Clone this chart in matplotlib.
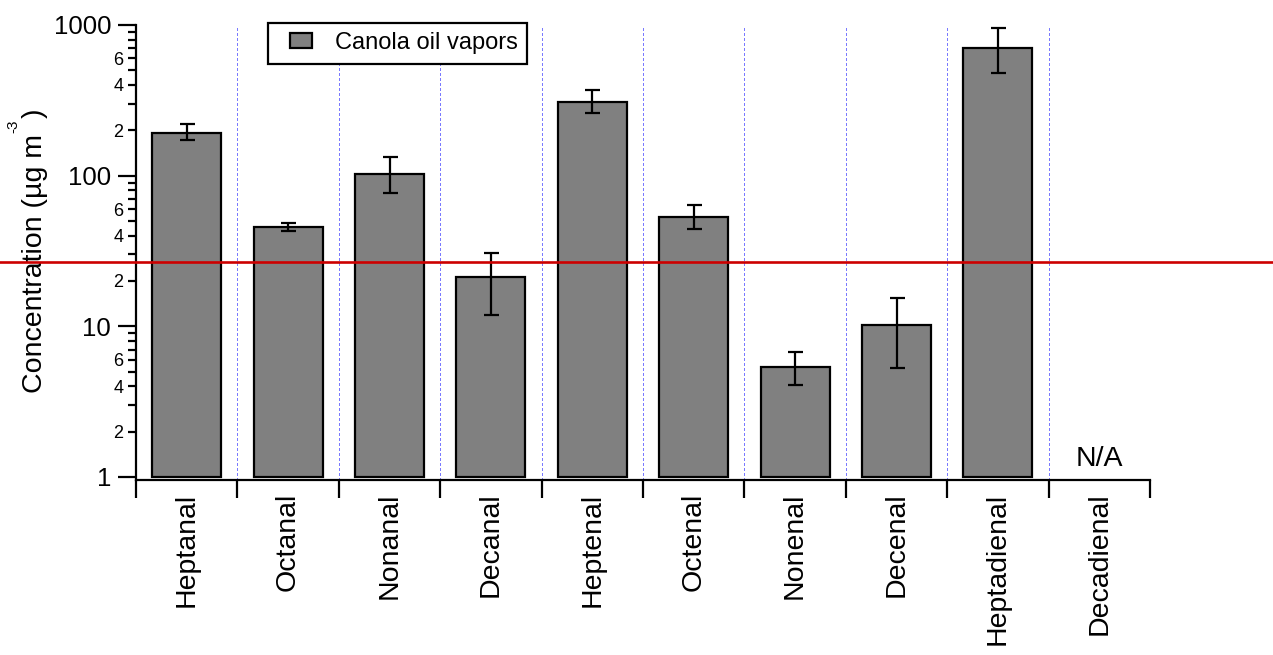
import numpy as np
import matplotlib
matplotlib.use("Agg")
import matplotlib.pyplot as plt
from matplotlib.lines import Line2D
from matplotlib.patches import Rectangle
from matplotlib.legend_handler import HandlerPatch
from matplotlib.transforms import blended_transform_factory
from matplotlib.ticker import FixedLocator, FuncFormatter, NullFormatter

plt.rcParams['font.family'] = ['Liberation Sans', 'DejaVu Sans']

# ---- data ----
categories = ["Heptanal", "Octanal", "Nonanal", "Decanal", "Heptenal",
              "Octenal", "Nonenal", "Decenal", "Heptadienal", "Decadienal"]
values   = [190.6, 45.3, 102.3, 21.1, 309.0, 53.0, 5.33, 10.2, 699.0, np.nan]
err_high = [219.0, 48.2, 132.7, 30.9, 370.0, 63.4, 6.80, 15.4, 949.0, np.nan]
err_low  = [172.0, 42.8, 77.3, 11.85, 260.0, 44.3, 4.06, 5.29, 477.0, np.nan]
reference_level = 26.8
series_name = "Canola oil vapors"
na_label = "N/A"
ylabel_main = "Concentration (µg m"
ylabel_sup = "-3"
ylabel_end = ")"

W, H = 1273, 655
values = np.array(values)
yerr = np.vstack([values - np.array(err_low), np.array(err_high) - values])

fig = plt.figure(figsize=(W / 100, H / 100), dpi=100)
ax = fig.add_axes([136/W, (H-480)/H, (1150-136)/W, (480-25)/H])

x = np.arange(len(categories))
base = 1.0
ax.bar(x, values - base, width=0.68, bottom=base, color='#808080', edgecolor='black',
       linewidth=1.6, zorder=3)
ax.errorbar(x, values, yerr=yerr, fmt='none', ecolor='black', elinewidth=1.6,
            capsize=5.4, capthick=1.6, zorder=4)

ax.set_yscale('log')
ax.set_ylim(0.955, 1000)
ax.set_xlim(-0.5, len(categories) - 0.5)

# vertical dotted separators
for b in np.arange(0.5, len(categories), 1.0):
    ax.axvline(b, color='#7a7aff', lw=0.75, ls=(0, (2.8, 2.8)), zorder=1,
               antialiased=False)

# spines
for s in ['top', 'right']:
    ax.spines[s].set_visible(False)
for s in ['left', 'bottom']:
    ax.spines[s].set_linewidth(1.6)

# y ticks
ax.yaxis.set_major_locator(FixedLocator([1, 10, 100, 1000]))
ax.yaxis.set_major_formatter(FuncFormatter(lambda v, p: f"{int(round(v))}"))
minors = [m * 10**d for d in range(0, 3) for m in range(2, 10)]
ax.yaxis.set_minor_locator(FixedLocator(minors))

def minor_fmt(v, p):
    m = int(round(v / 10**np.floor(np.log10(v) + 1e-9)))
    return str(m) if m in (2, 4, 6) else ""

ax.yaxis.set_minor_formatter(FuncFormatter(minor_fmt))
ax.tick_params(axis='y', which='major', direction='out', length=13, width=1.6,
               labelsize=18.5, pad=5)
ax.tick_params(axis='y', which='minor', direction='out', length=6, width=1.6,
               labelsize=13, pad=3)

# x ticks: labels at centers, tick marks at boundaries
ax.set_xticks(x)
ax.set_xticklabels(categories, rotation=90, fontsize=20.5)
ax.xaxis.set_minor_locator(FixedLocator(np.arange(-0.5, len(categories), 1.0)))
ax.xaxis.set_minor_formatter(NullFormatter())
ax.tick_params(axis='x', which='major', length=0, pad=9)
ax.tick_params(axis='x', which='minor', direction='out', length=13, width=1.6)

# N/A annotation
for i, v in enumerate(values):
    if np.isnan(v):
        ax.text(i, 1.18, na_label, ha='center', va='baseline', fontsize=20.5)

# y label built from pieces (main text, superscript, closing paren)
renderer = fig.canvas.get_renderer()
t1 = fig.text(42/W, (H-393)/H, ylabel_main, rotation=90, ha='left', va='baseline',
              rotation_mode='anchor', fontsize=20.5)
bb = t1.get_window_extent(renderer)
y_end = bb.y1 / fig.dpi / fig.get_size_inches()[1]
t2 = fig.text(17/W, y_end + 1/H, ylabel_sup, rotation=90, ha='left', va='baseline',
              rotation_mode='anchor', fontsize=11)
bb2 = t2.get_window_extent(renderer)
y_end2 = bb2.y1 / fig.dpi / fig.get_size_inches()[1]
fig.text(42/W, y_end2 + 1/H, ylabel_end, rotation=90, ha='left', va='baseline',
         rotation_mode='anchor', fontsize=20.5)

# legend with inset patch handle
FS = 17
pt_per_px = 0.72

def make_patch(legend, orig_handle, xdescent, ydescent, width, height, fontsize):
    pw, ph = 22 * pt_per_px, 15 * pt_per_px
    return Rectangle((-xdescent + width - pw, -ydescent + height / 2 - ph / 2 + 0.5), pw, ph)

proxy = Rectangle((0, 0), 1, 1, facecolor='#808080', edgecolor='black', linewidth=1.6)
leg = ax.legend([proxy], [series_name], loc='upper left', bbox_to_anchor=(0.130, 1.0044),
                borderaxespad=0, fontsize=FS, frameon=True, fancybox=False,
                framealpha=1, edgecolor='black', handlelength=1.46,
                handletextpad=0.97, borderpad=0.4,
                handler_map={Rectangle: HandlerPatch(patch_func=make_patch)})
leg.get_frame().set_linewidth(1.6)

# reference line spanning the whole figure width
trans = blended_transform_factory(fig.transFigure, ax.transData)
line = Line2D([0, 1], [reference_level, reference_level], transform=trans,
              color='#cc0000', lw=1.9, zorder=10)
fig.add_artist(line)

fig.savefig('out.png', dpi=100)
